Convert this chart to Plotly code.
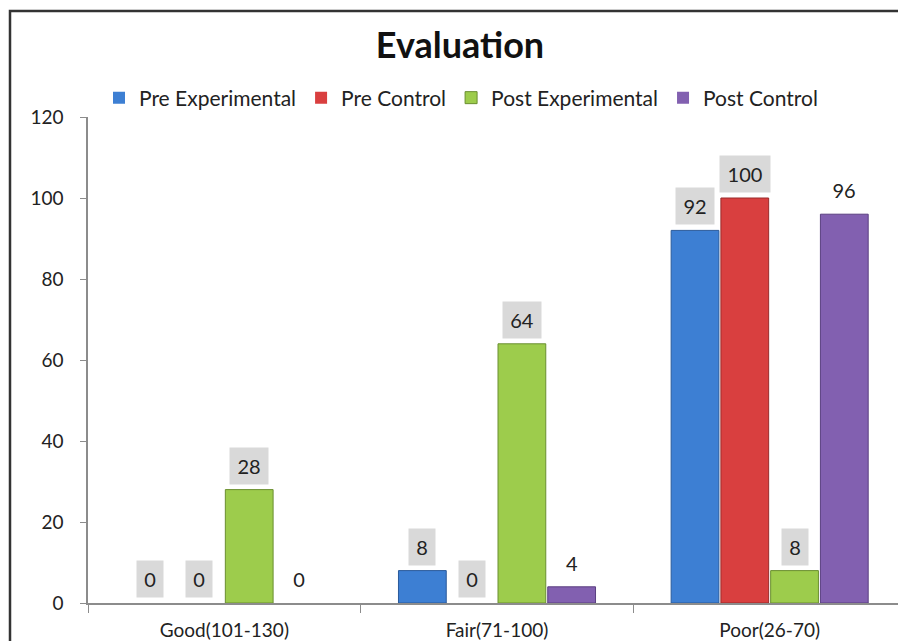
import plotly.graph_objects as go

categories = ["Good(101-130)", "Fair(71-100)", "Poor(26-70)"]
series_names = ["Pre Experimental", "Pre Control", "Post Experimental", "Post Control"]
pre_experimental = [0, 8, 92]
pre_control = [0, 0, 100]
post_experimental = [28, 64, 8]
post_control = [0, 4, 96]
y_ticks = [0, 20, 40, 60, 80, 100, 120]

series_values = [pre_experimental, pre_control, post_experimental, post_control]
colors = ["#3d7fd3", "#d93f3f", "#9dcc4c", "#8260b0"]
line_colors = ["#2a5a9a", "#9a2a2a", "#6a8f30", "#5a3f80"]
label_bg = ["#d9d9d9", "#d9d9d9", "#d9d9d9", "rgba(0,0,0,0)"]

FONT = "Lato, Open Sans, sans-serif"
# the page body has an 8px margin, so the figure is drawn 8px in from the top-left
W, H = 898, 633
ML, MR, MT, MB = 80, 0, 109, 38
BARGAP = 0.27
plot_w = W - ML - MR
plot_h = H - MT - MB

fig = go.Figure()
for name, vals, c, lc in zip(series_names, series_values, colors, line_colors):
    fig.add_trace(go.Bar(name=name, x=categories, y=vals,
                         marker=dict(color=c,
                                     line=dict(color=lc, width=[0 if v == 0 else 1 for v in vals]))))

cat_w = plot_w / len(categories)
bar_w = cat_w * (1 - BARGAP) / len(series_names)
annotations = []
for i, vals in enumerate(series_values):
    shift = (i - (len(series_names) - 1) / 2) * bar_w
    for cat, v in zip(categories, vals):
        txt = str(v)
        annotations.append(dict(x=cat, y=v, xref="x", yref="y", text=txt,
                                showarrow=False, xshift=shift, yshift=24,
                                font=dict(family=FONT, size=20, color="#222"),
                                width=12 * len(txt) + 4, height=26,
                                bgcolor=label_bg[i], borderpad=5))

fig.update_layout(
    width=W, height=H,
    margin=dict(l=ML, r=MR, t=MT, b=MB),
    paper_bgcolor="white", plot_bgcolor="white",
    barmode="group", bargap=BARGAP, bargroupgap=0.04,
    title=dict(text="<b>Evaluation</b>", x=(460 - 8) / W, xanchor="center", y=1 - 37 / H,
               yanchor="middle", font=dict(family=FONT, size=36, color="#111")),
    legend=dict(orientation="h", x=(461 - 88) / plot_w, xanchor="center",
                y=1 + 19 / plot_h, yanchor="middle",
                font=dict(family=FONT, size=21, color="#222"), itemwidth=30,
                bgcolor="rgba(0,0,0,0)"),
    font=dict(family=FONT, size=18, color="#222"),
    annotations=annotations,
    shapes=[dict(type="rect", xref="paper", yref="paper",
                 x0=(2 - ML) / plot_w, x1=1.05,
                 y0=-0.2, y1=1 + (MT - 3) / plot_h,
                 line=dict(color="#333", width=2.5), fillcolor="rgba(0,0,0,0)", layer="above")],
)
fig.update_xaxes(showline=True, linecolor="#8c8c8c", linewidth=1.5, ticks="outside",
                 tickson="boundaries", ticklen=8, tickcolor="#8c8c8c", showgrid=False,
                 ticklabelstandoff=9,
                 tickfont=dict(family=FONT, size=19, color="#222"))
fig.update_yaxes(range=[0, 120], tickvals=y_ticks, showline=True, linecolor="#8c8c8c",
                 linewidth=1.5, ticks="outside", ticklen=6, tickcolor="#8c8c8c",
                 showgrid=False, zeroline=False, ticklabelstandoff=13,
                 tickfont=dict(family=FONT, size=19, color="#222"))

fig.write_html("out.html")
